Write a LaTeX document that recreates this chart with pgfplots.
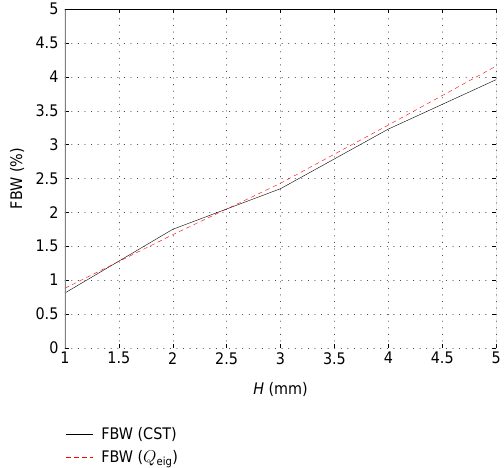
\documentclass[border=0pt]{standalone}
\usepackage{pgfplots}
\pgfplotsset{compat=1.18}
\usepackage{fontspec}
\setmainfont{DejaVu Sans Condensed}
\begin{document}
\begin{tikzpicture}
\begin{axis}[
  scale only axis, width=433pt, height=340pt,
  xmin=1, xmax=5, ymin=0, ymax=5,
  xtick={1,1.5,...,5}, ytick={0,0.5,...,5},
  xticklabels={1,1.5,2,2.5,3,3.5,4,4.5,5},
  yticklabels={0,0.5,1,1.5,2,2.5,3,3.5,4,4.5,5},
  font=\fontsize{16}{18}\selectfont,
  /pgf/number format/assume math mode=true,
  tick align=inside, tick style={black, thin},
  major tick length=4pt,
  xticklabel style={yshift=-1pt}, yticklabel style={xshift=-3pt},
  grid=major, major grid style={black!70, densely dotted, line cap=round, dash pattern=on 0.6pt off 6pt},
  axis line style={draw=none},
  xlabel={\textit{H} (mm)}, ylabel={FBW (\%)},
  xlabel style={yshift=-11pt}, ylabel style={inner ysep=10pt, yshift=-2pt},
  legend style={at={(0,-0.225)}, anchor=north west, draw=none, fill=none, font=\fontsize{16}{18}\selectfont, row sep=6pt, inner sep=1pt,
    /tikz/every odd column/.append style={column sep=6pt}},
  legend cell align=left,
  legend image code/.code={\draw[#1] (0.05cm,0cm) -- (1.0cm,0cm);},
]
\addplot[black, thin] coordinates {(1,0.81) (2,1.75) (3,2.35) (4,3.23) (5,3.96)};
\addlegendentry{FBW (CST)}
\addplot[red, thin, dash pattern=on 4.5pt off 3.5pt] coordinates {(1,0.88) (2,1.67) (3,2.43) (4,3.29) (5,4.16)};
\addlegendentry{FBW ($Q_{\mathrm{eig}}$)}
\draw[gray, line width=1.2pt] (rel axis cs:0,0) -- (rel axis cs:0,1);
\draw[gray, line width=1.2pt] (rel axis cs:1,0) -- (rel axis cs:1,1);
\draw[black, thin] (rel axis cs:0,1) -- (rel axis cs:1,1);
\draw[black, thin] (rel axis cs:0,0) -- (rel axis cs:1,0);
\end{axis}
\end{tikzpicture}
\end{document}
